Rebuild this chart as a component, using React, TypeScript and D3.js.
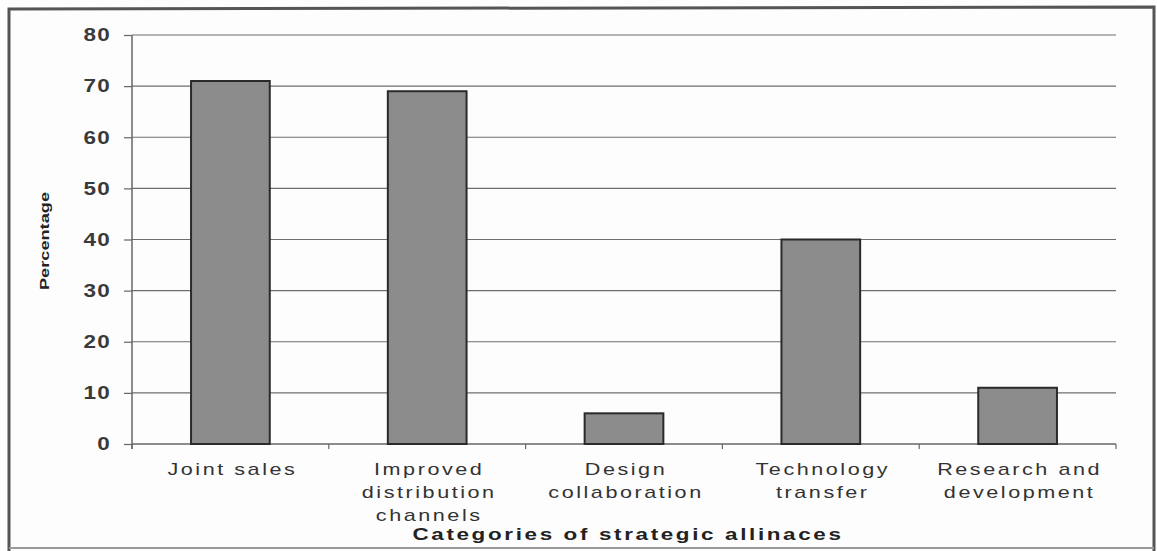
import React, { useEffect, useRef } from "react";
import * as d3 from "d3";

const categories = [
  ["Joint sales"],
  ["Improved", "distribution", "channels"],
  ["Design", "collaboration"],
  ["Technology", "transfer"],
  ["Research and", "development"],
];
const values = [71, 69, 6, 40, 11];
const yTicks = [0, 10, 20, 30, 40, 50, 60, 70, 80];

const App = () => {
  const svgRef = useRef<SVGSVGElement>(null);

  useEffect(() => {
    const svg = d3.select(svgRef.current);
    svg.selectAll("*").remove();

    const W = 1157;
    const H = 551;
    const left = 132, right = 1116, top = 35, bottom = 444;
    const font = "Arial, 'Liberation Sans', sans-serif";

    svg.append("rect").attr("width", W).attr("height", H).attr("fill", "#fdfdfd");

    // scanned page frame
    svg.append("path")
      .attr("d", `M9,551 L9,9 L1154,7 L1154,551`)
      .attr("fill", "none").attr("stroke", "#555").attr("stroke-width", 3);
    svg.append("line")
      .attr("x1", 9).attr("x2", 1154).attr("y1", 548).attr("y2", 548)
      .attr("stroke", "#999").attr("stroke-width", 2);

    const idx = categories.map((_, i) => String(i));
    const x = d3.scaleBand().domain(idx).range([left, right]).paddingInner(0.6).paddingOuter(0.3);
    const y = d3.scaleLinear().domain([0, 80]).range([bottom, top]);

    // gridlines
    svg.append("g")
      .selectAll("line")
      .data(yTicks.filter((t) => t > 0))
      .enter()
      .append("line")
      .attr("x1", left).attr("x2", right)
      .attr("y1", (d) => y(d)).attr("y2", (d) => y(d))
      .attr("stroke", "#6e6e6e").attr("stroke-width", 1.2);

    // y axis
    const yAxis = svg.append("g")
      .attr("transform", `translate(${left},0)`)
      .call(d3.axisLeft(y).tickValues(yTicks).tickSize(8));
    yAxis.select(".domain").attr("stroke", "#666").attr("stroke-width", 1.5).attr("d", `M0,${top}V${bottom + 5}`);
    yAxis.selectAll(".tick line").attr("stroke", "#666").attr("stroke-width", 1.2);
    // wide, scanned-looking digits: stretch horizontally
    yAxis.selectAll(".tick text")
      .attr("x", 0)
      .attr("transform", "translate(-21,0) scale(1.25,1)")
      .attr("font-family", font).attr("font-size", 18).attr("font-weight", "bold")
      .attr("fill", "#3a3a3a").attr("letter-spacing", 1);

    // x axis baseline + boundary ticks
    svg.append("line")
      .attr("x1", left).attr("x2", right).attr("y1", bottom).attr("y2", bottom)
      .attr("stroke", "#666").attr("stroke-width", 1.5);
    const step = x.step();
    const bounds = d3.range(categories.length + 1).map((i) => left + i * step);
    svg.append("g").selectAll("line").data(bounds).enter().append("line")
      .attr("x1", (d) => d).attr("x2", (d) => d)
      .attr("y1", bottom).attr("y2", bottom + 5)
      .attr("stroke", "#666").attr("stroke-width", 1.2);

    // bars
    svg.append("g")
      .selectAll("rect")
      .data(values)
      .enter()
      .append("rect")
      .attr("x", (_, i) => x(String(i))!)
      .attr("width", x.bandwidth())
      .attr("y", (d) => y(d))
      .attr("height", (d) => bottom - y(d))
      .attr("fill", "#8c8c8c")
      .attr("stroke", "#2a2a2a")
      .attr("stroke-width", 2);

    // category labels
    const lab = svg.append("g");
    categories.forEach((lines, i) => {
      const cx = x(String(i))! + x.bandwidth() / 2 + 2;
      lines.forEach((ln, j) => {
        lab.append("text")
          .attr("transform", `translate(${cx},${475 + j * 23}) scale(1.27,1)`)
          .attr("text-anchor", "middle")
          .attr("font-family", font).attr("font-size", 17)
          .attr("letter-spacing", 2)
          .attr("fill", "#333")
          .text(ln);
      });
    });

    // axis titles
    svg.append("text")
      .attr("transform", `translate(${(left + right) / 2 + 4},540) scale(1.32,1)`)
      .attr("text-anchor", "middle")
      .attr("font-family", font).attr("font-size", 17).attr("font-weight", "bold")
      .attr("letter-spacing", 2)
      .attr("fill", "#222")
      .text("Categories of strategic allinaces");

    svg.append("text")
      .attr("transform", `translate(49,241) rotate(-90)`)
      .attr("text-anchor", "middle")
      .attr("font-family", font).attr("font-size", 13).attr("font-weight", "bold")
      .attr("textLength", 98).attr("lengthAdjust", "spacingAndGlyphs")
      .attr("fill", "#222")
      .text("Percentage");
  }, []);

  return (
    <svg
      ref={svgRef}
      width={1157}
      height={551}
      style={{ position: "absolute", left: 0, top: 0, display: "block" }}
    />
  );
};

export default App;
